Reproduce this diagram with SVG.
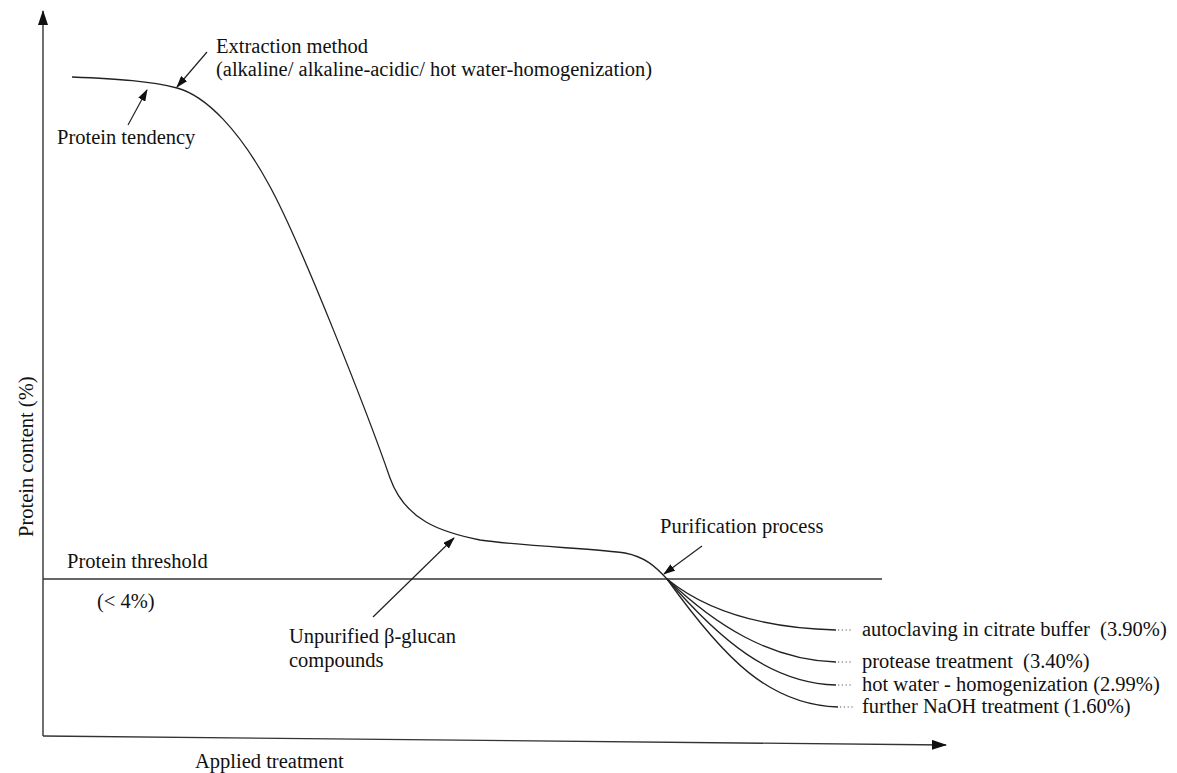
<svg xmlns="http://www.w3.org/2000/svg" width="1177" height="773" viewBox="0 0 1177 773">
<style>
text{font-family:"Liberation Serif","Times New Roman",serif;font-size:20.5px;fill:#111}
.ln{fill:none;stroke:#222;stroke-width:1.3}
.ax{fill:none;stroke:#333;stroke-width:1.4}
.ar{fill:none;stroke:#222;stroke-width:1.2}
.dot{fill:none;stroke:#555;stroke-width:1.2;stroke-dasharray:1.2 2.6}
</style>
<defs>
<marker id="ah" viewBox="0 0 12 8" refX="11" refY="4" markerWidth="12" markerHeight="8" orient="auto" markerUnits="userSpaceOnUse"><path d="M0,0 L12,4 L0,8 z" fill="#111"/></marker>
<marker id="axh" viewBox="0 0 15 10" refX="14" refY="5" markerWidth="15" markerHeight="10" orient="auto" markerUnits="userSpaceOnUse"><path d="M0,0 L15,5 L0,10 z" fill="#111"/></marker>
</defs>
<rect width="1177" height="773" fill="#fff"/>
<g id="connectors">
<path class="ax" d="M43,736 L43,11" marker-end="url(#axh)"/>
<path class="ax" d="M43,736 L946,745" marker-end="url(#axh)"/>
<path class="ax" d="M43,579 L882,579"/>
<path class="ln" d="M72,77 C120,79 150,81 177,88 C207,96 240,132 268,183 C300,240 370,420 390,478 C405,520 440,532 480,540 C520,546 600,549 625,553 C645,557 655,566 667,579"/>
<path class="ln" d="M667,579 C705,610 760,628 836,630"/>
<path class="ln" d="M667,579 C715,625 770,660 836,662"/>
<path class="ln" d="M667,579 C720,640 770,683 836,685"/>
<path class="ln" d="M667,579 C725,660 770,705 838,707"/>
<path class="dot" d="M838,630 L851,630 M838,662 L851,662 M838,685 L851,685 M840,707 L853,707"/>
<path class="ar" d="M207,52 L177,87" marker-end="url(#ah)"/>
<path class="ar" d="M128,125 L147,90" marker-end="url(#ah)"/>
<path class="ar" d="M373,617 L454,538" marker-end="url(#ah)"/>
<path class="ar" d="M702,546 L664,574" marker-end="url(#ah)"/>
</g>
<g id="extraction"><text x="216" y="53">Extraction method</text><text x="216" y="76">(alkaline/ alkaline-acidic/ hot water-homogenization)</text></g>
<g id="tendency"><text x="57" y="144">Protein tendency</text></g>
<g id="ylabel"><text transform="translate(33,537) rotate(-90)">Protein content (%)</text></g>
<g id="xlabel"><text x="195" y="768">Applied treatment</text></g>
<g id="threshold"><text x="67" y="568">Protein threshold</text><text x="97" y="608">(&lt; 4%)</text></g>
<g id="unpurified"><text x="289" y="643">Unpurified β-glucan</text><text x="289" y="667">compounds</text></g>
<g id="purification"><text x="660" y="533">Purification process</text></g>
<g id="autoclaving"><text x="862" y="636" xml:space="preserve">autoclaving in citrate buffer  (3.90%)</text></g>
<g id="protease"><text x="862" y="668" xml:space="preserve">protease treatment  (3.40%)</text></g>
<g id="hotwater"><text x="862" y="691">hot water - homogenization (2.99%)</text></g>
<g id="naoh"><text x="862" y="713">further NaOH treatment (1.60%)</text></g>
</svg>
